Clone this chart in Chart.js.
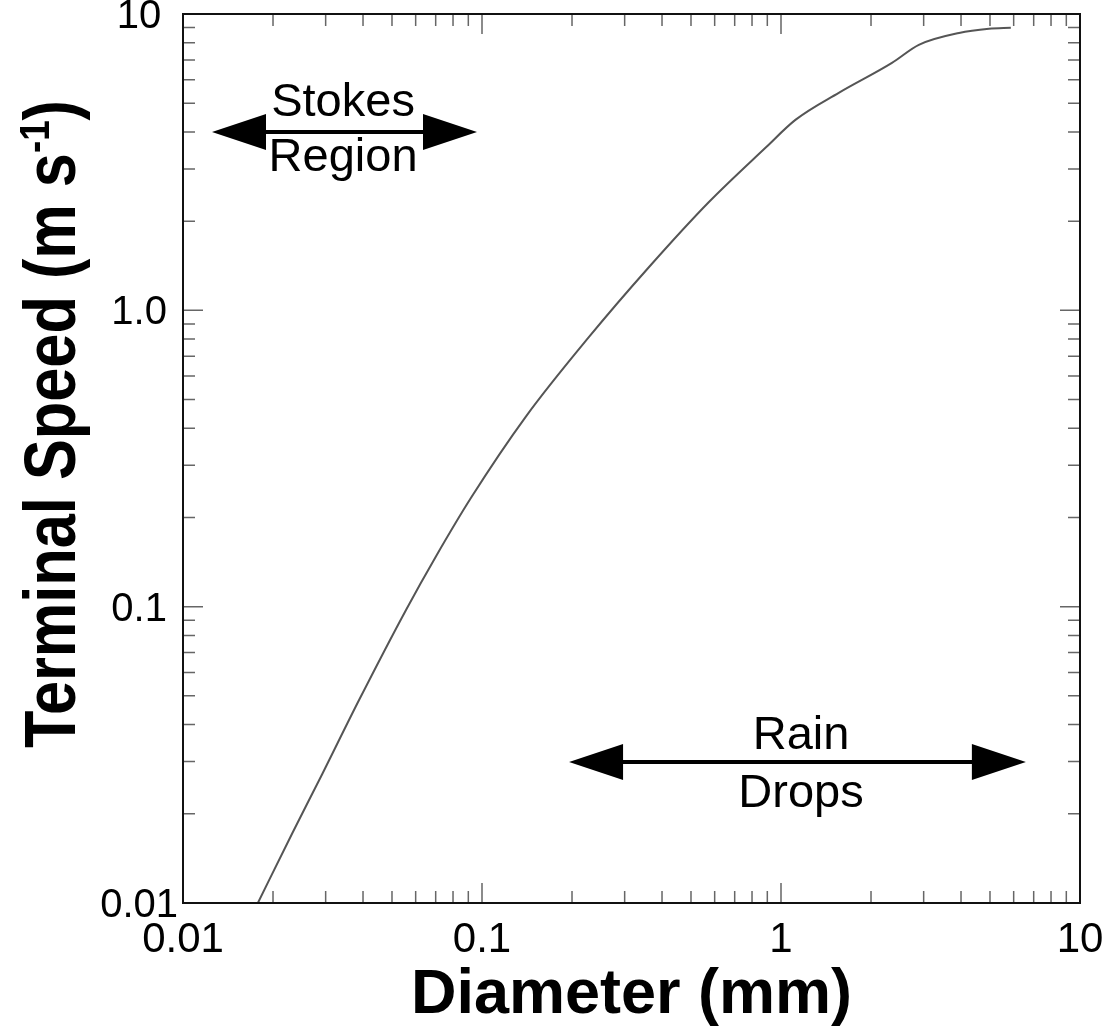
<!DOCTYPE html>
<html>
<head>
<meta charset="utf-8">
<script src="https://cdn.jsdelivr.net/npm/chart.js@4/dist/chart.umd.min.js"></script>
<style>
  html, body { margin: 0; padding: 0; background: #fff; }
  #wrap { width: 1115px; height: 1033px; }
</style>
</head>
<body>
<div id="wrap"><canvas id="chart" width="1115" height="1033"></canvas></div>
<script>
// terminal speed of water drops
const diameterMm = [0.0178, 0.0232, 0.0292, 0.0388, 0.0557, 0.0702, 0.0919, 0.140, 0.228, 0.362, 0.574, 0.891, 1.12, 1.56, 2.35, 2.89, 3.94, 4.96, 5.87];
const speedMs    = [0.0100, 0.0172, 0.0272, 0.0484, 0.0975, 0.148, 0.233, 0.437, 0.813, 1.40, 2.32, 3.55, 4.40, 5.42, 6.84, 7.87, 8.63, 8.91, 8.98];

const xTickVals = [0.01, 0.1, 1, 10];
const xTickLabels = ["0.01", "0.1", "1", "10"];
const yTickVals = [0.01, 0.1, 1, 10];
const yTickLabels = ["0.01", "0.1", "1.0", "10"];

// double-headed arrows with two-line labels (data coords)
const stokesArrow = { from: 0.0125, to: 0.0962, at: 4.0, labels: ["Stokes", "Region"], labelX: 0.0343, labelY: [5.1, 3.32] };
const rainArrow   = { from: 0.1955, to: 6.59, at: 0.0299, labels: ["Rain", "Drops"], labelX: 1.167, labelY: [0.0371, 0.0237] };

const FONT = "'Liberation Sans', Arial, sans-serif";

function drawArrow(ctx, x1, x2, y) {
  const headLen = 54, headHalf = 18;
  ctx.strokeStyle = "#000";
  ctx.fillStyle = "#000";
  ctx.lineWidth = 4;
  ctx.beginPath();
  ctx.moveTo(x1 + headLen - 2, y);
  ctx.lineTo(x2 - headLen + 2, y);
  ctx.stroke();
  ctx.beginPath();
  ctx.moveTo(x1, y);
  ctx.lineTo(x1 + headLen, y - headHalf);
  ctx.lineTo(x1 + headLen, y + headHalf);
  ctx.closePath();
  ctx.fill();
  ctx.beginPath();
  ctx.moveTo(x2, y);
  ctx.lineTo(x2 - headLen, y - headHalf);
  ctx.lineTo(x2 - headLen, y + headHalf);
  ctx.closePath();
  ctx.fill();
}

const framePlugin = {
  id: "frame",
  afterDraw(chart) {
    const { ctx, chartArea: a, scales: { x, y } } = chart;
    ctx.save();

    // inward ticks on all four sides
    ctx.strokeStyle = "#666";
    ctx.lineWidth = 1.5;
    for (let e = -2; e <= 0; e++) {
      for (let m = 1; m <= 9; m++) {
        const v = m * Math.pow(10, e);
        const len = m === 1 ? 20 : 12;
        if (m === 1 && e === -2) continue;
        const px = x.getPixelForValue(v);
        const py = y.getPixelForValue(v);
        ctx.beginPath();
        ctx.moveTo(px, a.bottom); ctx.lineTo(px, a.bottom - len);
        ctx.moveTo(px, a.top); ctx.lineTo(px, a.top + len);
        ctx.moveTo(a.left, py); ctx.lineTo(a.left + len, py);
        ctx.moveTo(a.right, py); ctx.lineTo(a.right - len, py);
        ctx.stroke();
      }
    }

    // frame
    ctx.strokeStyle = "#111";
    ctx.lineWidth = 2;
    ctx.strokeRect(a.left, a.top, a.right - a.left, a.bottom - a.top);

    // arrows + labels
    ctx.font = "47px " + FONT;
    ctx.textAlign = "center";
    ctx.textBaseline = "middle";
    [stokesArrow, rainArrow].forEach(ar => {
      drawArrow(ctx, x.getPixelForValue(ar.from), x.getPixelForValue(ar.to), y.getPixelForValue(ar.at));
      ar.labels.forEach((t, i) => {
        ctx.fillText(t, x.getPixelForValue(ar.labelX), y.getPixelForValue(ar.labelY[i]) + 2);
      });
    });

    // x title
    ctx.fillStyle = "#000";
    ctx.font = "bold 63px " + FONT;
    ctx.textBaseline = "alphabetic";
    ctx.fillText("Diameter (mm)", (a.left + a.right) / 2, 1013);

    // y title, rotated, with superscript
    const main = "Terminal Speed (m s";
    ctx.font = "bold 60px " + FONT;
    const wMain = ctx.measureText(main).width;
    const wParen = ctx.measureText(")").width;
    ctx.font = "bold 36px " + FONT;
    const wSup = ctx.measureText("-1").width;
    const total = wMain + wSup + wParen;
    const target = 648;
    ctx.translate(75, 748);
    ctx.rotate(-Math.PI / 2);
    ctx.scale(target / total, 1.2);
    ctx.textAlign = "left";
    ctx.font = "bold 60px " + FONT;
    ctx.fillText(main, 0, 0);
    ctx.font = "bold 36px " + FONT;
    ctx.fillText("-1", wMain, -22);
    ctx.font = "bold 60px " + FONT;
    ctx.fillText(")", wMain + wSup, 0);
    ctx.restore();
  }
};

new Chart(document.getElementById("chart"), {
  type: "scatter",
  data: {
    datasets: [{
      data: diameterMm.map((d, i) => ({ x: d, y: speedMs[i] })),
      showLine: true,
      borderColor: "#555",
      borderWidth: 2,
      pointRadius: 0,
      cubicInterpolationMode: "monotone",
      fill: false
    }]
  },
  options: {
    responsive: false,
    animation: false,
    layout: { padding: { top: 14, right: 35, left: 0, bottom: 0 } },
    plugins: { legend: { display: false }, tooltip: { enabled: false } },
    scales: {
      x: {
        type: "logarithmic",
        min: 0.01, max: 10,
        grid: { display: false, drawTicks: false },
        border: { display: false },
        afterBuildTicks: s => { s.ticks = xTickVals.map(v => ({ value: v })); },
        afterFit: s => { s.height = 130; s.paddingLeft = 0; s.paddingRight = 0; },
        ticks: {
          color: "#000",
          font: { family: FONT, size: 42 },
          padding: 12,
          maxRotation: 0,
          autoSkip: false,
          callback: (v, i) => xTickLabels[i]
        }
      },
      y: {
        type: "logarithmic",
        min: 0.01, max: 10,
        grid: { display: false, drawTicks: false },
        border: { display: false },
        afterBuildTicks: s => { s.ticks = yTickVals.map(v => ({ value: v })); },
        afterFit: s => { s.width = 183; s.paddingTop = 0; s.paddingBottom = 0; },
        ticks: {
          color: "#000",
          font: { family: FONT, size: 40 },
          padding: 5,
          labelOffset: 3,
          crossAlign: "center",
          autoSkip: false,
          callback: (v, i) => yTickLabels[i]
        }
      }
    }
  },
  plugins: [framePlugin]
});
</script>
</body>
</html>
